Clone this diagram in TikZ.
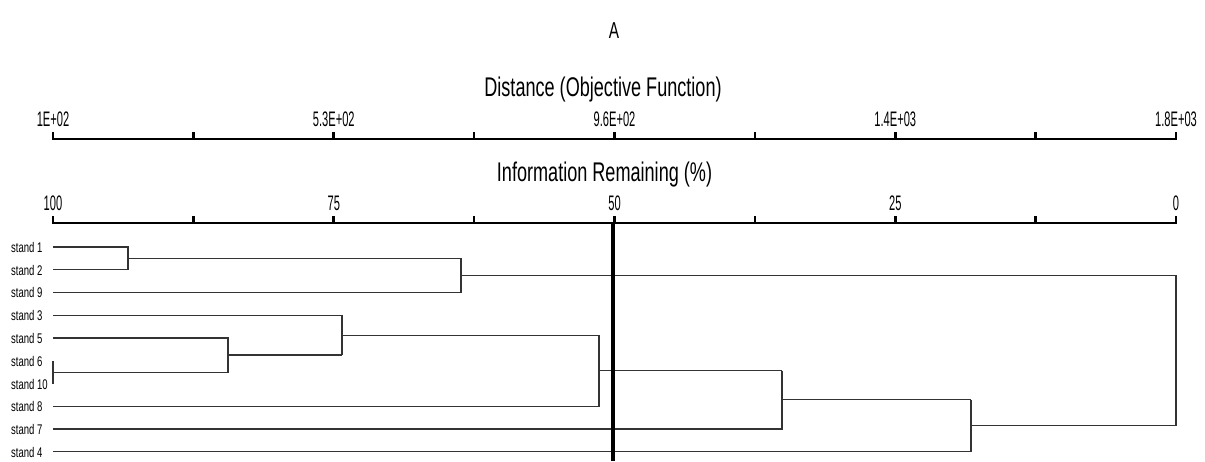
\documentclass[tikz,border=0pt]{standalone}
\usepackage{fontspec}
\setmainfont{Liberation Sans}[FakeStretch=0.67]
\newfontfamily\tickfont{Liberation Sans}[FakeStretch=0.53]
\newfontfamily\leaffont{Liberation Sans}[FakeStretch=0.68]
\begin{document}
\begin{tikzpicture}[x=1pt,y=-1pt,
  axisline/.style={line width=2.6pt,line cap=butt},
  tree/.style={line width=1.1pt,draw=black!80},
  ticklab/.style={anchor=base,inner sep=0pt,font=\tickfont\fontsize{21}{21}\selectfont},
  leaflab/.style={anchor=base west,inner sep=0pt,font=\leaffont\fontsize{14}{14}\selectfont},
  titlelab/.style={anchor=base,inner sep=0pt,font=\fontsize{27}{27}\selectfont}]
\useasboundingbox (0,0) rectangle (1205,462);
% titles
\node[anchor=base,inner sep=0pt,font=\fontsize{23}{23}\selectfont] (ttlA) at (614,39) {A};
\node[titlelab] (ttlD) at (603,97) {Distance (Objective Function)};
\node[titlelab] (ttlI) at (604.5,182) {Information Remaining (\%)};
% top axis
\coordinate (ta0) at (53,139);
\coordinate (ta8) at (1176,139);
\draw[axisline] (53,132) -- (ta0) -- (ta8) -- (1176,132);
\foreach \i in {1,...,7} \draw[axisline] (53+\i*140.375,139) -- (53+\i*140.375,132);
\node[ticklab] (d0) at (53,127) {1E+02};
\node[ticklab] (d2) at (333.75,127) {5.3E+02};
\node[ticklab] (d4) at (614.5,127) {9.6E+02};
\node[ticklab] (d6) at (895.25,127) {1.4E+03};
\node[ticklab] (d8) at (1176,127) {1.8E+03};
% bottom axis
\coordinate (ba0) at (53,223);
\coordinate (ba8) at (1176,223);
\draw[axisline] (53,216) -- (ba0) -- (ba8) -- (1176,216);
\foreach \i in {1,...,7} \draw[axisline] (53+\i*140.375,223) -- (53+\i*140.375,216);
\node[ticklab] (p0) at (53,211) {100};
\node[ticklab] (p2) at (333.75,211) {75};
\node[ticklab] (p4) at (614.5,211) {50};
\node[ticklab] (p6) at (895.25,211) {25};
\node[ticklab] (p8) at (1176,211) {0};
% leaves
\foreach \n/\k in {1/0,2/1,9/2,3/3,5/4,6/5,10/6,8/7,7/8,4/9}{
  \coordinate (l\n) at (53,247+\k*22.75);
  \node[leaflab] (s\n) at (11,247+\k*22.75+5.5) {stand \n};
}
% merge points
\coordinate (m12) at (128,258.4);
\coordinate (m129) at (461,275.4);
\coordinate (m610) at (53,372.1);
\coordinate (m5610) at (228,355);
\coordinate (m3) at (342,335.1);
\coordinate (m8) at (599,370.7);
\coordinate (m7) at (782,399.9);
\coordinate (m4) at (971,425.8);
\coordinate (root) at (1176,350.6);
% tree
\draw[tree] (l1) -- (l1 -| m12) -- (l2 -| m12) -- (l2);
\draw[tree] (m12) -- (m12 -| m129);
\draw[tree] (m12 -| m129) -- (l9 -| m129) -- (l9);
\draw[tree] (l6) -- (l10);
\draw[tree] (m610) -- (m610 -| m5610) -- (l5 -| m5610) -- (l5);
\draw[tree] (m5610) -- (m5610 -| m3);
\draw[tree] (m5610 -| m3) -- (l3 -| m3) -- (l3);
\draw[tree] (m3) -- (m3 -| m8);
\draw[tree] (m3 -| m8) -- (l8 -| m8) -- (l8);
\draw[tree] (m8) -- (m8 -| m7);
\draw[tree] (m8 -| m7) -- (l7 -| m7) -- (l7);
\draw[tree] (m7) -- (m7 -| m4);
\draw[tree] (m7 -| m4) -- (l4 -| m4) -- (l4);
\draw[tree] (m129) -- (m129 -| root) -- (m4 -| root) -- (m4);
% cut line
\coordinate (cutT) at (613,223);
\coordinate (cutB) at (613,461);
\draw[line width=4pt] (cutT) -- (cutB);
\end{tikzpicture}
\end{document}
